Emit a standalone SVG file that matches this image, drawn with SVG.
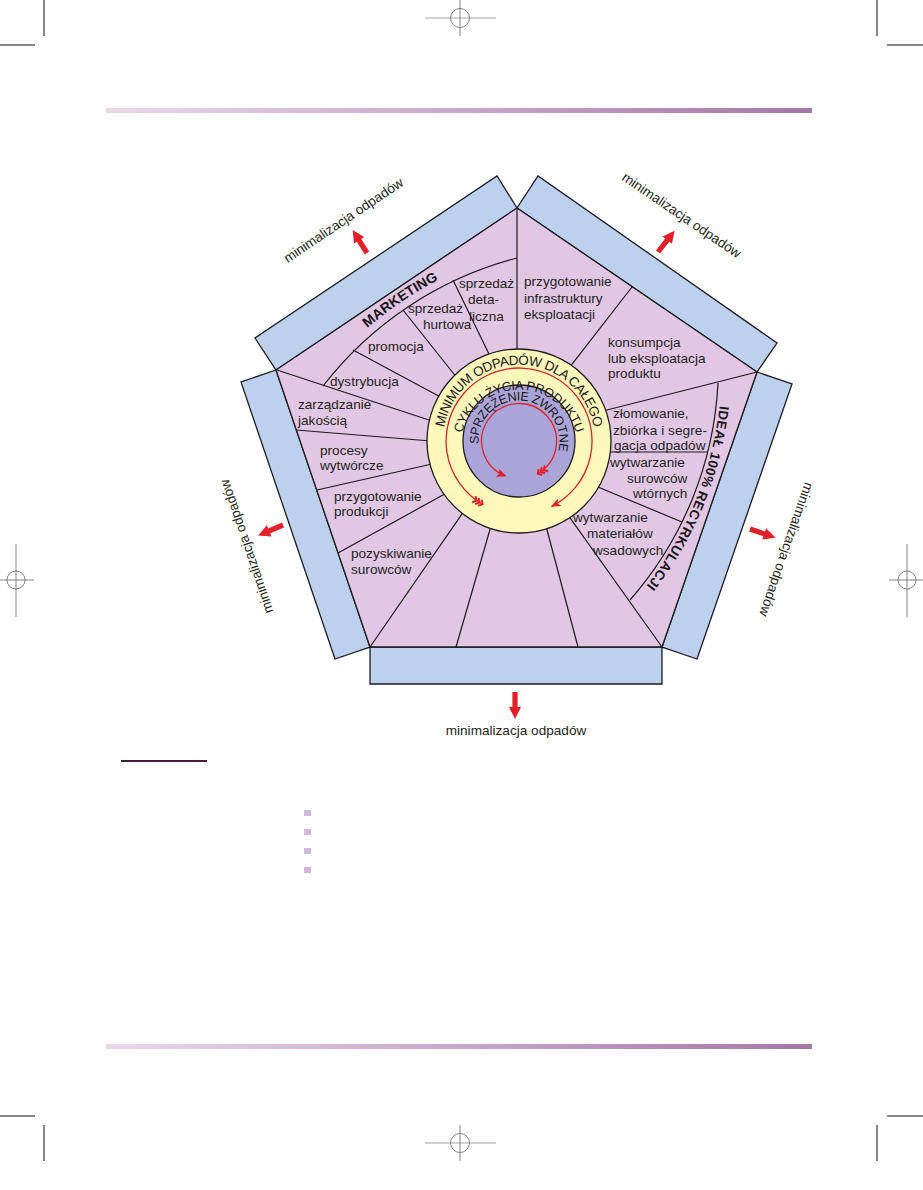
<svg xmlns="http://www.w3.org/2000/svg" width="923" height="1190" viewBox="0 0 923 1190">
<defs>
<style>
.lbl{font-family:"Liberation Sans",Arial,sans-serif;font-size:13.6px;fill:#231f20}
.bold{font-family:"Liberation Sans",Arial,sans-serif;font-weight:bold;fill:#1a161a}
.ring{font-family:"Liberation Sans",Arial,sans-serif;fill:#1a161a}
.ln{stroke:#1c1a1c;stroke-width:1.2;fill:none}
.panel{fill:#bdd0ee;stroke:#1c1a1c;stroke-width:1.3}
.red{stroke:#e3202a;stroke-width:1.3;fill:none}
.crop{stroke:#111;stroke-width:1}
.reg{stroke:#666;stroke-width:0.8;fill:none}
.arrow{fill:#e3202a}
.bullet{fill:#d3b7d9}
</style>
<linearGradient id="bar" x1="0" y1="0" x2="1" y2="0">
<stop offset="0" stop-color="#e9d8ea"/>
<stop offset="1" stop-color="#a677a9"/>
</linearGradient>
<path id="redArrow" d="M0,-2.6 L15,-2.6 L15,-6 L27,0 L15,6 L15,2.6 L0,2.6 Z"/>
<marker id="head" markerUnits="userSpaceOnUse" markerWidth="14" markerHeight="12" viewBox="-12 -6 14 12" refX="0" refY="0" orient="auto" overflow="visible">
<path d="M1,0 L-9,-4.2 L-6.5,0 L-9,4.2 Z" fill="#e3202a"/>
</marker>
<marker id="feath" markerUnits="userSpaceOnUse" markerWidth="14" markerHeight="12" viewBox="-12 -6 14 12" refX="0" refY="0" orient="auto-start-reverse" overflow="visible">
<path d="M-3,-3.5 L0,0 L-3,3.5 M-6.5,-3.5 L-3.5,0 L-6.5,3.5 M-10,-3.5 L-7,0 L-10,3.5" fill="none" stroke="#e3202a" stroke-width="2"/>
</marker>
<path id="pMin" d="M444.2,454.2 A76,76 0 1 1 593.8,454.2"/>
<path id="pCyk" d="M461.8,463.1 A59,59 0 1 1 576.2,463.1"/>
<path id="pSpr" d="M479.9,451.5 A40.5,40.5 0 1 1 555.7,458.1"/>
<path id="pMkt" d="M361.4,333.3 A367,367 0 0 1 457.7,270.7"/>
<path id="pIde" d="M721.5,383.8 A360,360 0 0 1 629.5,605.9"/>
</defs>

<rect x="0" y="0" width="923" height="1190" fill="#ffffff"/>

<!-- page furniture -->
<g id="page">
<rect x="106" y="108" width="706" height="5" fill="url(#bar)"/>
<rect x="106" y="1044" width="706" height="5" fill="url(#bar)"/>
<line class="crop" x1="44" y1="0" x2="44" y2="36"/>
<line class="crop" x1="0" y1="45" x2="35" y2="45"/>
<line class="crop" x1="877" y1="0" x2="877" y2="36"/>
<line class="crop" x1="887" y1="45" x2="923" y2="45"/>
<line class="crop" x1="0" y1="1116" x2="35" y2="1116"/>
<line class="crop" x1="44" y1="1125" x2="44" y2="1161"/>
<line class="crop" x1="887" y1="1116" x2="923" y2="1116"/>
<line class="crop" x1="877" y1="1125" x2="877" y2="1161"/>
<line x1="425" y1="18" x2="496" y2="18" stroke="#d2d2d2" stroke-width="2"/>
<line class="reg" x1="460" y1="0" x2="460" y2="36"/>
<circle class="reg" cx="460" cy="18" r="9.5"/>
<line x1="425" y1="1143" x2="496" y2="1143" stroke="#d2d2d2" stroke-width="2"/>
<line class="reg" x1="460" y1="1125" x2="460" y2="1161"/>
<circle class="reg" cx="460" cy="1143" r="9.5"/>
<line class="reg" x1="0" y1="580" x2="34" y2="580"/>
<line class="reg" x1="16" y1="544" x2="16" y2="617"/>
<circle class="reg" cx="16" cy="580" r="9"/>
<line class="reg" x1="889" y1="580" x2="923" y2="580"/>
<line class="reg" x1="907" y1="544" x2="907" y2="617"/>
<circle class="reg" cx="907" cy="580" r="9"/>
<line x1="121" y1="761" x2="207" y2="761" stroke="#4a1842" stroke-width="2"/>
<rect class="bullet" x="304" y="810" width="7" height="6"/>
<rect class="bullet" x="304" y="829" width="7" height="6"/>
<rect class="bullet" x="304" y="848" width="7" height="6"/>
<rect class="bullet" x="304" y="867" width="7" height="6"/>
</g>

<!-- side panels -->
<g id="panels">
<polygon id="panel-top-left" class="panel" points="276,370 517,208 497,176 255,338"/>
<polygon id="panel-top-right" class="panel" points="517,208 757,372 777,343 538,176"/>
<polygon id="panel-right" class="panel" points="757,372 662,647 697,659 792,384"/>
<polygon id="panel-bottom" class="panel" points="370,647 662,647 662,684 370,684"/>
<polygon id="panel-left" class="panel" points="276,370 370,647 335,659 241,382"/>
</g>

<!-- pentagon -->
<g id="pentagon">
<polygon points="517,208 757,372 662,647 370,647 276,370" fill="#e2c7e5" stroke="#1c1a1c" stroke-width="1.3"/>
</g>

<!-- connectors: spokes and arcs -->
<g id="connectors">
<line class="ln" x1="277" y1="370" x2="432" y2="421"/>
<line class="ln" x1="296" y1="430" x2="431" y2="441"/>
<line class="ln" x1="317" y1="490" x2="432" y2="464"/>
<line class="ln" x1="338" y1="553" x2="446.5" y2="493"/>
<line class="ln" x1="370" y1="647" x2="464.3" y2="510.7"/>
<line class="ln" x1="456" y1="647" x2="491" y2="526"/>
<line class="ln" x1="578" y1="647" x2="546" y2="526"/>
<line class="ln" x1="662" y1="647" x2="567.7" y2="514.7"/>
<line class="ln" x1="682" y1="522" x2="594.3" y2="485.5"/>
<line class="ln" x1="707" y1="452" x2="606" y2="452"/>
<line class="ln" x1="757" y1="372" x2="603" y2="411"/>
<line class="ln" x1="632" y1="287" x2="570.5" y2="366.2"/>
<line class="ln" x1="517" y1="208" x2="517" y2="353"/>
<line class="ln" x1="453" y1="280" x2="489.7" y2="355.6"/>
<line class="ln" x1="403" y1="310" x2="455.5" y2="376"/>
<line class="ln" x1="353" y1="350" x2="440.5" y2="397"/>
<path class="ln" d="M323,386 A360,360 0 0 1 517,258"/>
<path class="ln" d="M718,383 A356,356 0 0 1 630,600"/>
</g>

<!-- hub -->
<g id="hub">
<circle cx="519" cy="441" r="92" fill="#fef9bb" stroke="#1c1a1c" stroke-width="1.3"/>
<circle cx="519" cy="441" r="56" fill="#aaa5d8" stroke="#1c1a1c" stroke-width="1.3"/>
<path class="red" d="M482.5,504.2 A73,73 0 1 1 551.7,506.3" marker-start="url(#feath)" marker-end="url(#head)"/>
<path class="red" d="M537.8,473.5 A37.5,37.5 0 1 0 505.6,476" marker-start="url(#feath)" marker-end="url(#head)"/>
<text class="ring" font-size="13.5"><textPath href="#pMin" startOffset="50%" text-anchor="middle" textLength="212" lengthAdjust="spacing">MINIMUM ODPADÓW DLA CAŁEGO</textPath></text>
<text class="ring" font-size="12.8"><textPath href="#pCyk" startOffset="50%" text-anchor="middle" textLength="154" lengthAdjust="spacing">CYKLU ŻYCIA PRODUKTU</textPath></text>
<text class="ring" font-size="12.5"><textPath href="#pSpr" startOffset="50%" text-anchor="middle" textLength="140" lengthAdjust="spacing">SPRZĘŻENIE ZWROTNE</textPath></text>
</g>

<!-- arced headings -->
<g id="heading-marketing">
<text class="bold" font-size="14"><textPath href="#pMkt" startOffset="8" textLength="86" lengthAdjust="spacingAndGlyphs">MARKETING</textPath></text>
</g>
<g id="heading-recykl">
<text class="bold" font-size="13.5"><textPath href="#pIde" startOffset="22" textLength="197" lengthAdjust="spacing">IDEAŁ 100% RECYRKULACJI</textPath></text>
</g>

<!-- sector labels -->
<g id="sec-detaliczna"><text class="lbl" x="459" y="288">sprzedaż</text><text class="lbl" x="468" y="304">deta-</text><text class="lbl" x="469" y="321">liczna</text></g>
<g id="sec-hurtowa"><text class="lbl" x="408" y="313">sprzedaż</text><text class="lbl" x="423" y="329">hurtowa</text></g>
<g id="sec-promocja"><text class="lbl" x="368" y="351">promocja</text></g>
<g id="sec-dystrybucja"><text class="lbl" x="330" y="386">dystrybucja</text></g>
<g id="sec-jakosc"><text class="lbl" x="298" y="409">zarządzanie</text><text class="lbl" x="298" y="425">jakością</text></g>
<g id="sec-procesy"><text class="lbl" x="320" y="455">procesy</text><text class="lbl" x="320" y="470">wytwórcze</text></g>
<g id="sec-przygotowanie"><text class="lbl" x="334" y="501">przygotowanie</text><text class="lbl" x="334" y="516">produkcji</text></g>
<g id="sec-pozyskiwanie"><text class="lbl" x="351" y="558">pozyskiwanie</text><text class="lbl" x="351" y="574">surowców</text></g>
<g id="sec-infrastruktura"><text class="lbl" x="524" y="286">przygotowanie</text><text class="lbl" x="524" y="303">infrastruktury</text><text class="lbl" x="524" y="319">eksploatacji</text></g>
<g id="sec-konsumpcja"><text class="lbl" x="608" y="347">konsumpcja</text><text class="lbl" x="608" y="363">lub eksploatacja</text><text class="lbl" x="608" y="378">produktu</text></g>
<g id="sec-zlomowanie"><text class="lbl" x="613" y="418">złomowanie,</text><text class="lbl" x="613" y="435" textLength="94">zbiórka i segre-</text><text class="lbl" x="614" y="450">gacja odpadów</text></g>
<g id="sec-wtorne"><text class="lbl" x="610" y="467">wytwarzanie</text><text class="lbl" x="627" y="483">surowców</text><text class="lbl" x="633" y="498">wtórnych</text></g>
<g id="sec-wsadowe"><text class="lbl" x="573" y="522">wytwarzanie</text><text class="lbl" x="587" y="538">materiałów</text><text class="lbl" x="593" y="555">wsadowych</text></g>

<!-- outward arrows and labels -->
<g id="out-top-left">
<use href="#redArrow" class="arrow" transform="translate(367,253) rotate(-122)"/>
<text class="lbl" font-size="13.7" text-anchor="middle" transform="translate(346,224) rotate(-33.9)">minimalizacja odpadów</text>
</g>
<g id="out-top-right">
<use href="#redArrow" class="arrow" transform="translate(658,252) rotate(-52)"/>
<text class="lbl" font-size="13.7" text-anchor="middle" transform="translate(679,219) rotate(34.3)">minimalizacja odpadów</text>
</g>
<g id="out-right">
<use href="#redArrow" class="arrow" transform="translate(750,529) rotate(19)"/>
<text class="lbl" font-size="13.7" text-anchor="middle" transform="translate(782,548) rotate(109)">minimalizacja odpadów</text>
</g>
<g id="out-left">
<use href="#redArrow" class="arrow" transform="translate(283,525) rotate(157)"/>
<text class="lbl" font-size="13.7" text-anchor="middle" transform="translate(251,545) rotate(-108.7)">minimalizacja odpadów</text>
</g>
<g id="out-bottom">
<use href="#redArrow" class="arrow" transform="translate(515,692) rotate(90)"/>
<text class="lbl" font-size="13.7" text-anchor="middle" x="516" y="735">minimalizacja odpadów</text>
</g>
</svg>
